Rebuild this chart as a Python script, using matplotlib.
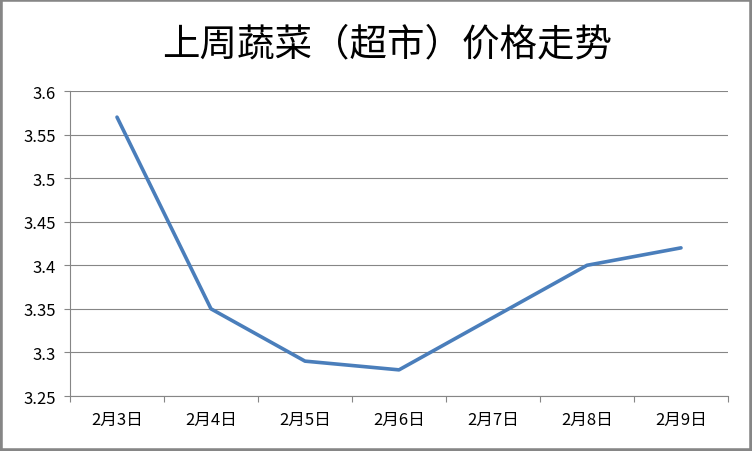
from matplotlib import pyplot as plt
from matplotlib.patches import Rectangle
from matplotlib.ticker import FuncFormatter, FixedLocator
import numpy as np

plt.rcParams['font.family'] = ['Noto Sans CJK SC', 'DejaVu Sans']

# data
days = ["2月3日", "2月4日", "2月5日", "2月6日", "2月7日", "2月8日", "2月9日"]
prices = [3.57, 3.35, 3.29, 3.28, 3.34, 3.40, 3.42]
title = "上周蔬菜（超市）价格走势"

fig = plt.figure(figsize=(7.52, 4.52), dpi=100)
ax = fig.add_axes([70 / 752, 55 / 452, 658 / 752, 305 / 452])

x = np.arange(len(days))
ax.plot(x, prices, color="#4a7ebb", linewidth=2.6, solid_capstyle="round")

ax.set_xlim(-0.5, len(days) - 0.5)
ax.set_ylim(3.25, 3.6)
ax.set_yticks(np.arange(3.25, 3.601, 0.05))
ax.yaxis.set_major_formatter(FuncFormatter(lambda v, p: f"{v:.2f}".rstrip("0").rstrip(".")))
ax.set_xticks(x)
ax.set_xticklabels(days)
ax.xaxis.set_minor_locator(FixedLocator(np.arange(-0.5, len(days), 1.0)))

ax.grid(axis="y", color="#868686", linewidth=0.8)
ax.set_axisbelow(True)
for s in ["top", "right"]:
    ax.spines[s].set_visible(False)
for s in ["left", "bottom"]:
    ax.spines[s].set_color("#868686")
    ax.spines[s].set_linewidth(0.8)

ax.tick_params(axis="x", which="major", length=0, pad=11, labelsize=12)
ax.tick_params(axis="x", which="minor", length=4, color="#868686", width=0.8)
ax.tick_params(axis="y", length=4, color="#868686", width=0.8, pad=6, labelsize=12)

fig.text(387 / 752, 1 - 45 / 452, title, ha="center", va="center", fontsize=27)

fig.patches.append(Rectangle((0, 0), 1, 1, transform=fig.transFigure,
                             fill=False, edgecolor="#868686", linewidth=4))

fig.savefig("out.png", dpi=100)
